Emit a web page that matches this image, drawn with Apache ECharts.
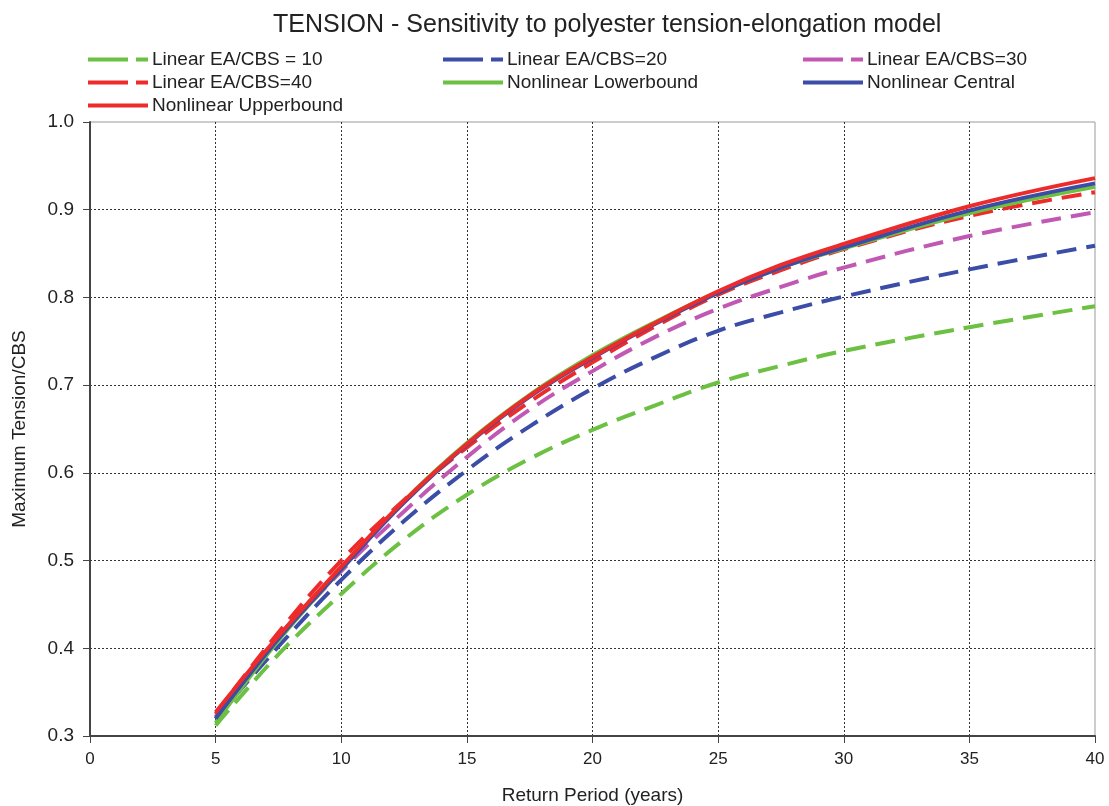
<!DOCTYPE html>
<html>
<head>
<meta charset="utf-8">
<script src="https://cdn.jsdelivr.net/npm/echarts@6/dist/echarts.min.js"></script>
<style>
  html, body { margin: 0; padding: 0; background: #fff; }
  #chart { width: 1109px; height: 806px; }
</style>
</head>
<body>
<div id="chart"></div>
<script>
// return period (years)
var years = [5, 7.5, 10, 12.5, 15, 17.5, 20, 22.5, 25, 27.5, 30, 35, 40];

var linear10 = [0.312, 0.393, 0.462, 0.524, 0.575, 0.616, 0.649, 0.677, 0.703, 0.722, 0.739, 0.766, 0.790];
var linear20 = [0.320, 0.402, 0.478, 0.545, 0.603, 0.653, 0.696, 0.732, 0.762, 0.783, 0.801, 0.832, 0.859];
var linear30 = [0.322, 0.410, 0.488, 0.556, 0.618, 0.672, 0.716, 0.755, 0.787, 0.812, 0.834, 0.870, 0.897];
var linear40 = [0.325, 0.418, 0.500, 0.569, 0.629, 0.681, 0.726, 0.767, 0.803, 0.831, 0.855, 0.893, 0.920];
var nlLower  = [0.315, 0.409, 0.490, 0.568, 0.634, 0.689, 0.734, 0.772, 0.806, 0.834, 0.856, 0.896, 0.926];
var nlCentral = [0.320, 0.411, 0.490, 0.566, 0.632, 0.687, 0.731, 0.770, 0.805, 0.834, 0.857, 0.899, 0.930];
var nlUpper  = [0.327, 0.414, 0.493, 0.568, 0.633, 0.688, 0.732, 0.771, 0.807, 0.837, 0.861, 0.904, 0.936];

var GREEN = '#6cc042', BLUE = '#3b4da6', MAGENTA = '#c159b4', RED = '#ee2b2b';
var font = 'Liberation Sans, Arial, sans-serif';

// legend glyphs: long dash + short dash, or a plain bar
var DASH_ICON = 'path://M0,0H40V4H0Z M48,0H60V4H48Z';
var SOLID_ICON = 'path://M0,0H60V4H0Z';

function pairs(vals) {
  return years.map(function (x, i) { return [x, vals[i]]; });
}

function mk(name, vals, color, dashed) {
  return {
    name: name,
    type: 'line',
    data: pairs(vals),
    smooth: 0.4,
    symbol: 'none',
    lineStyle: { color: color, width: 4, type: dashed ? [20, 10] : 'solid' },
    itemStyle: { color: color }
  };
}

function item(name, dashed) {
  return { name: name, icon: dashed ? DASH_ICON : SOLID_ICON };
}

var legendCommon = {
  orient: 'vertical',
  top: 50,
  padding: 0,
  itemWidth: 62,
  itemHeight: 4,
  itemGap: 4,
  textStyle: { fontFamily: font, fontSize: 19, color: '#222', padding: [0, 0, 0, -2] }
};

var chart = echarts.init(document.getElementById('chart'));
chart.setOption({
  animation: false,
  title: {
    text: 'TENSION - Sensitivity to polyester tension-elongation model',
    left: 268,
    top: 8,
    textStyle: { fontFamily: font, fontSize: 25, fontWeight: 'normal', color: '#222' }
  },
  legend: [
    Object.assign({}, legendCommon, { left: 88, data: [item('Linear EA/CBS = 10', true), item('Linear EA/CBS=40', true), item('Nonlinear Upperbound', false)] }),
    Object.assign({}, legendCommon, { left: 443, data: [item('Linear EA/CBS=20', true), item('Nonlinear Lowerbound', false)] }),
    Object.assign({}, legendCommon, { left: 803, data: [item('Linear EA/CBS=30', true), item('Nonlinear Central', false)] })
  ],
  grid: {
    left: 90, right: 14, top: 122, bottom: 70,
    outerBoundsMode: 'none',
    show: true, borderColor: '#999', borderWidth: 1
  },
  xAxis: {
    type: 'value',
    min: 0, max: 40, interval: 5,
    name: 'Return Period (years)',
    nameLocation: 'middle',
    nameGap: 50,
    nameTextStyle: { fontFamily: font, fontSize: 19, color: '#222' },
    axisLine: { lineStyle: { color: '#444', width: 2 } },
    axisTick: { show: true, length: 7, lineStyle: { color: '#444' } },
    axisLabel: { fontFamily: font, fontSize: 17, color: '#222', margin: 15 },
    splitLine: { show: true, showMinLine: false, showMaxLine: false, lineStyle: { color: '#333', type: [2, 2], width: 1 } }
  },
  yAxis: {
    type: 'value',
    min: 0.3, max: 1.0, interval: 0.1,
    name: 'Maximum Tension/CBS',
    nameLocation: 'middle',
    nameGap: 61,
    nameTextStyle: { fontFamily: font, fontSize: 19, color: '#222' },
    axisLine: { show: true, lineStyle: { color: '#444', width: 2 } },
    axisTick: { show: true, length: 7, lineStyle: { color: '#444' } },
    axisLabel: {
      fontFamily: font, fontSize: 19, color: '#222', margin: 16,
      formatter: function (v) { return v.toFixed(1); }
    },
    splitLine: { show: true, showMinLine: false, showMaxLine: false, lineStyle: { color: '#333', type: [2, 2], width: 1 } }
  },
  series: [
    mk('Linear EA/CBS = 10', linear10, GREEN, true),
    mk('Linear EA/CBS=20', linear20, BLUE, true),
    mk('Linear EA/CBS=30', linear30, MAGENTA, true),
    mk('Linear EA/CBS=40', linear40, RED, true),
    mk('Nonlinear Lowerbound', nlLower, GREEN, false),
    mk('Nonlinear Central', nlCentral, BLUE, false),
    mk('Nonlinear Upperbound', nlUpper, RED, false)
  ]
});
</script>
</body>
</html>
